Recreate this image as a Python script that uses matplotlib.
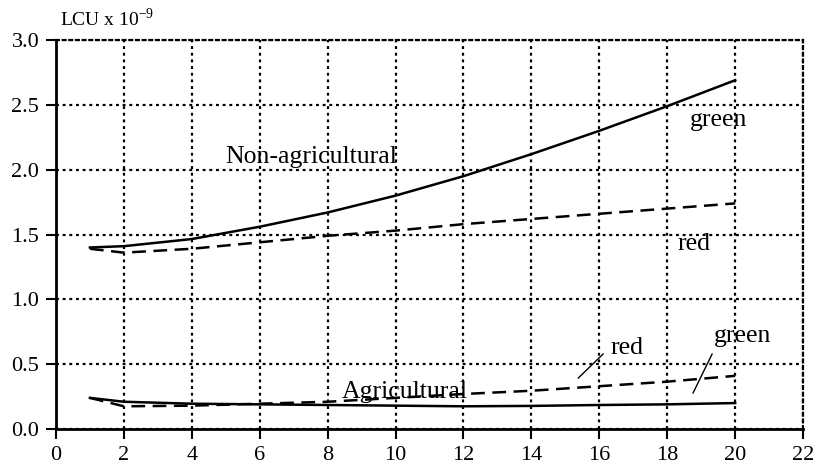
import matplotlib.pyplot as plt

plt.rcParams['font.family'] = 'Liberation Serif'
plt.rcParams['mathtext.fontset'] = 'custom'
plt.rcParams['mathtext.rm'] = 'Liberation Serif'

years = [1, 2, 4, 6, 8, 10, 12, 14, 16, 18, 20]

nonag_green = [1.40, 1.41, 1.465, 1.56, 1.67, 1.80, 1.95, 2.12, 2.30, 2.49, 2.69]
nonag_red = [1.39, 1.36, 1.39, 1.44, 1.49, 1.53, 1.58, 1.62, 1.66, 1.70, 1.74]
ag_green = [0.24, 0.21, 0.195, 0.19, 0.185, 0.18, 0.175, 0.178, 0.185, 0.19, 0.20]
ag_red = [0.24, 0.175, 0.18, 0.195, 0.21, 0.24, 0.27, 0.295, 0.33, 0.365, 0.41]

fig = plt.figure(figsize=(8.17, 4.71), dpi=100)
ax = fig.add_axes([0.0685, 0.0892, 0.9145, 0.8258])

dash = (5.5, 3)
ax.plot(years, nonag_green, color='black', lw=1.8)
ax.plot(years, nonag_red, color='black', lw=1.8, dashes=dash)
ax.plot(years, ag_green, color='black', lw=1.8)
ax.plot(years, ag_red, color='black', lw=1.8, dashes=dash)

# labels
ax.text(4.98, 2.05, 'Non-agricultural', fontsize=18.5, ha='left', va='baseline')
ax.text(18.67, 2.34, 'green', fontsize=18.5, ha='left', va='baseline')
ax.text(18.29, 1.38, 'red', fontsize=18.5, ha='left', va='baseline')
ax.text(8.42, 0.24, 'Agricultural', fontsize=18.5, ha='left', va='baseline')
ax.text(16.32, 0.578, 'red', fontsize=18.5, ha='left', va='baseline')
ax.text(19.38, 0.67, 'green', fontsize=18.5, ha='left', va='baseline')
ax.plot([15.38, 16.11], [0.393, 0.578], color='black', lw=1)
ax.plot([18.76, 19.32], [0.278, 0.578], color='black', lw=1)

ax.set_xlim(0, 22)
ax.set_ylim(0, 3.0)
ax.set_xticks(range(0, 23, 2))
ax.set_yticks([0, 0.5, 1.0, 1.5, 2.0, 2.5, 3.0])
ax.set_yticklabels(['0.0', '0.5', '1.0', '1.5', '2.0', '2.5', '3.0'])
ax.tick_params(direction='out', length=7, width=1.5, labelsize=16, pad=5)

ax.grid(True, color='black', lw=1.6, linestyle=(0, (1.3, 1.7)))
ax.set_axisbelow(True)
for s in ['left', 'bottom']:
    ax.spines[s].set_linewidth(2)
for s in ['top', 'right']:
    ax.spines[s].set_linewidth(1.6)
    ax.spines[s].set_linestyle((0, (1.3, 1.7)))

fig.text(60 / 817, (471 - 26) / 471, r'LCU x 10$^{\mathrm{-9}}$', fontsize=14,
         ha='left', va='baseline')

fig.savefig('out.png', dpi=100)
